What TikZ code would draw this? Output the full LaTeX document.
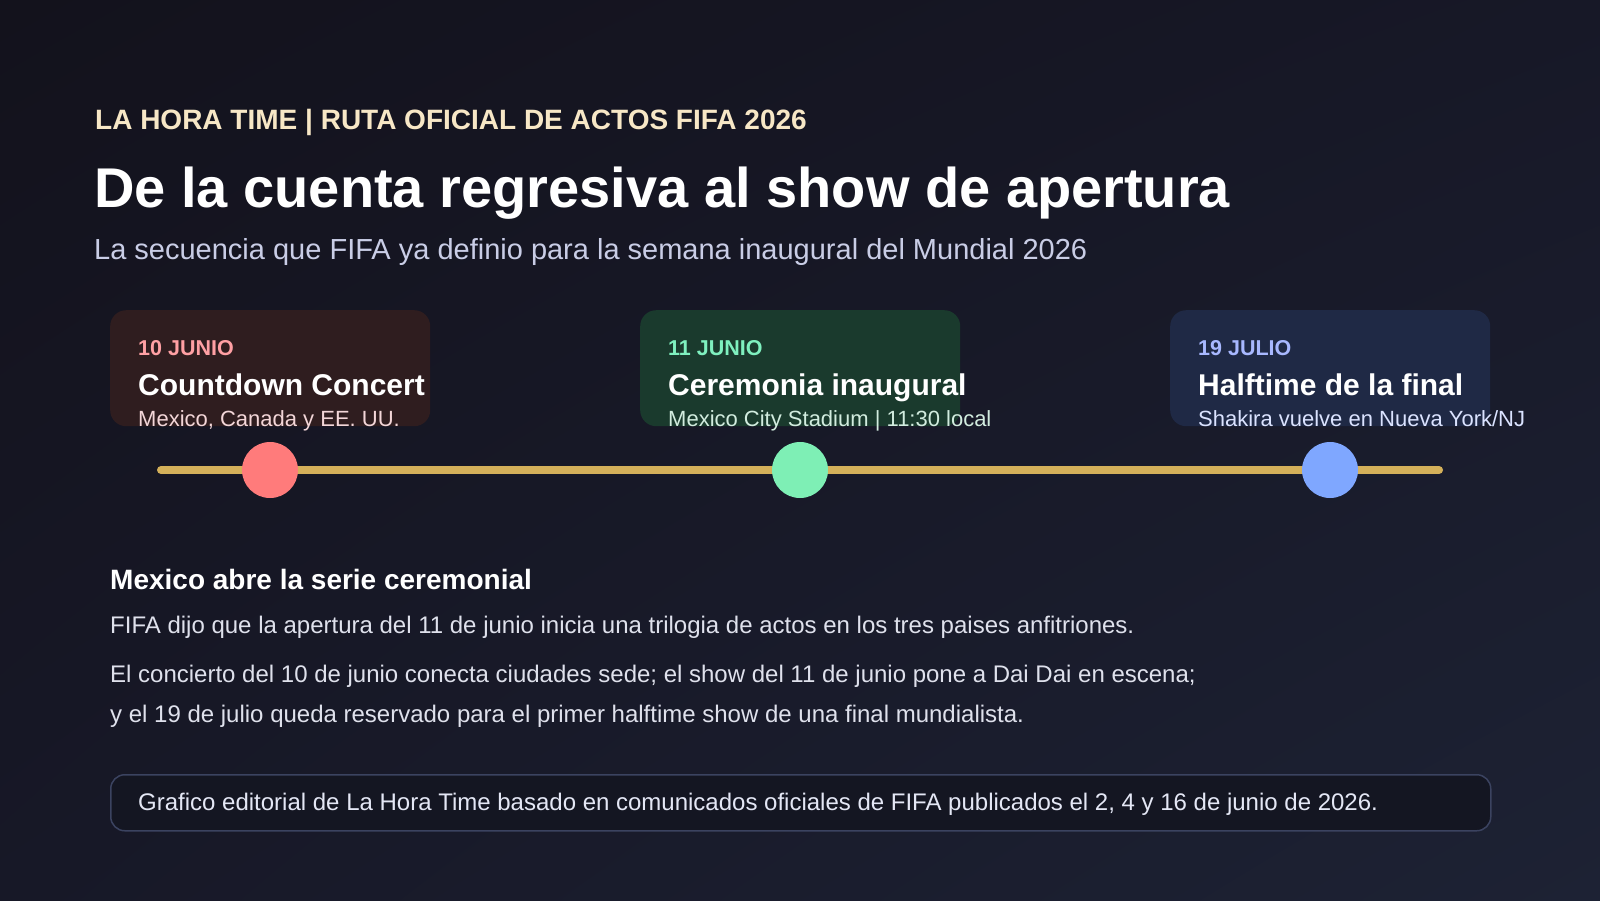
\documentclass[tikz,border=0pt]{standalone}
\usepackage{fontspec}
\setmainfont{Liberation Sans}
\usetikzlibrary{positioning, shadings}
\definecolor{bgA}{HTML}{13121C}
\definecolor{bgB}{HTML}{171827}
\definecolor{bgC}{HTML}{1D2234}
\definecolor{kicker}{HTML}{F7E7C6}
\definecolor{subtitle}{HTML}{C9CDE6}
\definecolor{bodytxt}{HTML}{DFE1EC}
\definecolor{gold}{HTML}{D4B05A}
\definecolor{cardA}{HTML}{2F1D1F}
\definecolor{cardB}{HTML}{1A3A2D}
\definecolor{cardC}{HTML}{1F2945}
\definecolor{dateA}{HTML}{FFA0A4}
\definecolor{dateB}{HTML}{7FF0BF}
\definecolor{dateC}{HTML}{A8B8FF}
\definecolor{subA}{HTML}{F3D6D8}
\definecolor{subB}{HTML}{D2ECDF}
\definecolor{subC}{HTML}{DBE3FF}
\definecolor{dotA}{HTML}{FF7B7B}
\definecolor{dotB}{HTML}{7EEFB5}
\definecolor{dotC}{HTML}{7FA7FF}
\definecolor{footfill}{HTML}{141622}
\definecolor{footline}{HTML}{3B4360}
\definecolor{foottxt}{HTML}{E4E7F5}
\tikzset{
    x=1pt, y=-1pt, % one unit is one pixel, y grows downward
    card/.style={rounded corners=16pt, minimum width=320pt, minimum height=116pt, inner sep=0pt, anchor=north west}, % the event boxes
    datelbl/.style={anchor=base west, inner sep=0pt, font=\fontsize{21.5}{24}\selectfont\bfseries},
    cardtitle/.style={anchor=base west, inner sep=0pt, text=white, font=\fontsize{30}{34}\selectfont\bfseries},
    cardsub/.style={anchor=base west, inner sep=0pt, font=\fontsize{22}{26}\selectfont},
    dot/.style={circle, minimum size=56pt, inner sep=0pt}, % markers on the timeline
    timeline/.style={line width=8pt, line cap=round, draw=gold},
    bodyline/.style={anchor=base west, inner sep=0pt, text=bodytxt, font=\fontsize{24}{28}\selectfont},
}

\begin{document}
\begin{tikzpicture}
\shade[upper left=bgA, upper right=bgB, lower left=bgB, lower right=bgC] (0,0) rectangle (1600,900);
\useasboundingbox (0,0) rectangle (1600,900);
% heading
\node[anchor=base west, inner sep=0pt, text=kicker, font=\fontsize{28}{32}\selectfont\bfseries] (kick) at (95,129) {LA HORA TIME | RUTA OFICIAL DE ACTOS FIFA 2026};
\node[anchor=base west, inner sep=0pt, text=white, font=\fontsize{56}{64}\selectfont\bfseries] (title) at (94,207) {De la cuenta regresiva al show de apertura};
\node[anchor=base west, inner sep=0pt, text=subtitle, font=\fontsize{29}{34}\selectfont] (subt) at (94,259) {La secuencia que FIFA ya definio para la semana inaugural del Mundial 2026};
% event cards
\node[card, fill=cardA] (c1) at (110,310) {};
\node[card, fill=cardB] (c2) at (640,310) {};
\node[card, fill=cardC] (c3) at (1170,310) {};
\node[datelbl, text=dateA] (d1) at (138,355) {10 JUNIO};
\node[datelbl, text=dateB] (d2) at (668,355) {11 JUNIO};
\node[datelbl, text=dateC] (d3) at (1198,355) {19 JULIO};
\node[cardtitle] (t1) at (138,395) {Countdown Concert};
\node[cardtitle] (t2) at (668,395) {Ceremonia inaugural};
\node[cardtitle] (t3) at (1198,395) {Halftime de la final};
\node[cardsub, text=subA] (s1) at (138,426) {Mexico, Canada y EE. UU.};
\node[cardsub, text=subB] (s2) at (668,426) {Mexico City Stadium | 11:30 local};
\node[cardsub, text=subC] (s3) at (1198,426) {Shakira vuelve en Nueva York/NJ};
% timeline
\coordinate (lstart) at (161,470);
\coordinate (lend) at (1439,470);
\draw[timeline] (lstart) -- (lend);
\node[dot, fill=dotA] (p1) at (270,470) {};
\node[dot, fill=dotB] (p2) at (800,470) {};
\node[dot, fill=dotC] (p3) at (1330,470) {};
% text block
\node[anchor=base west, inner sep=0pt, text=white, font=\fontsize{28}{32}\selectfont\bfseries] (head) at (110,589) {Mexico abre la serie ceremonial};
\node[bodyline] (b1) at (110,633) {FIFA dijo que la apertura del 11 de junio inicia una trilogia de actos en los tres paises anfitriones.};
\node[bodyline] (b2) at (110,682) {El concierto del 10 de junio conecta ciudades sede; el show del 11 de junio pone a Dai Dai en escena;};
\node[bodyline] (b3) at (110,722) {y el 19 de julio queda reservado para el primer halftime show de una final mundialista.};
% source note
\node[rounded corners=14pt, draw=footline, line width=1.5pt, fill=footfill, minimum width=1380pt, minimum height=56pt, anchor=north west] (foot) at (110,774) {};
\node[bodyline, text=foottxt] (note) at (138,810) {Grafico editorial de La Hora Time basado en comunicados oficiales de FIFA publicados el 2, 4 y 16 de junio de 2026.};
\end{tikzpicture}
\end{document}
